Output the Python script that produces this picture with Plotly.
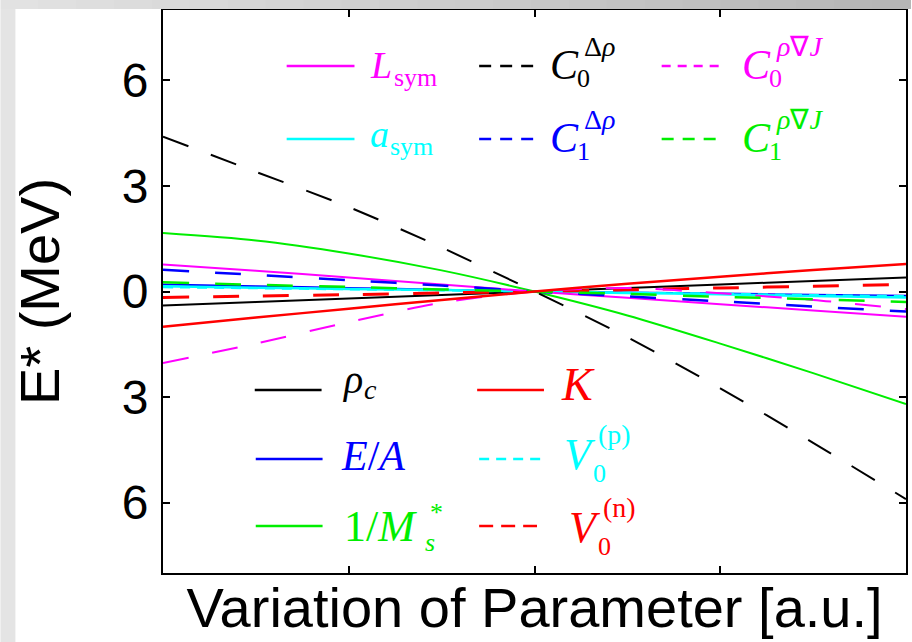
import plotly.graph_objects as go

# Parameter variation (arbitrary units) and excitation-energy shifts E* (MeV)
x = [0, 0.5, 1, 1.5, 2, 2.5, 3, 3.5, 4]

rho_c   = [-0.40, -0.30, -0.20, -0.10, 0, 0.10, 0.20, 0.30, 0.40]
E_A     = [0.20, 0.15, 0.10, 0.05, 0, -0.03, -0.06, -0.09, -0.12]
inv_Ms  = [1.66, 1.45, 1.08, 0.60, 0, -0.68, -1.48, -2.32, -3.20]
K       = [-1.00, -0.74, -0.49, -0.24, 0, 0.22, 0.42, 0.61, 0.78]
V0_p    = [0.12, 0.09, 0.06, 0.03, 0, -0.03, -0.06, -0.10, -0.13]
V0_n    = [-0.17, -0.13, -0.09, -0.04, 0, 0.05, 0.10, 0.15, 0.20]
L_sym   = [0.77, 0.59, 0.40, 0.20, 0, -0.18, -0.36, -0.54, -0.72]
a_sym   = [0.15, 0.11, 0.07, 0.04, 0, -0.04, -0.08, -0.13, -0.17]
C0_drho = [4.40, 3.40, 2.40, 1.25, 0, -1.30, -2.75, -4.30, -5.90]
C1_drho = [0.62, 0.47, 0.32, 0.17, 0, -0.14, -0.28, -0.43, -0.57]
C0_rJ   = [-2.03, -1.48, -0.87, -0.32, 0, 0.10, -0.05, -0.24, -0.50]
C1_rJ   = [0.26, 0.19, 0.13, 0.06, 0, -0.07, -0.15, -0.22, -0.30]

y_ticks = [6, 3, 0, -3, -6]
y_tick_text = ["6", "3", "0", "3", "6"]
x_ticks = [1, 2, 3]

MAGENTA, CYAN, BLUE, GREEN, RED, BLACK = "#ff00ff", "#00ffff", "#0000ff", "#00ee00", "#ff0000", "#000000"

series = [
    ("rho_c", rho_c, BLACK, "solid", 2),
    ("E/A", E_A, BLUE, "solid", 2),
    ("V0(p)", V0_p, CYAN, "10px,7px", 2),
    ("a_sym", a_sym, CYAN, "solid", 2.5),
    ("1/M*s", inv_Ms, GREEN, "solid", 2),
    ("V0(n)", V0_n, RED, "26px,24px", 3),
    ("L_sym", L_sym, MAGENTA, "solid", 2),
    ("C0 drho", C0_drho, BLACK, "27px,24px", 2),
    ("C1 drho", C1_drho, BLUE, "26px,26px", 2.5),
    ("C0 rho divJ", C0_rJ, MAGENTA, "26px,24px", 2),
    ("C1 rho divJ", C1_rJ, GREEN, "26px,26px", 2.5),
    ("K", K, RED, "solid", 2.5),
]

fig = go.Figure()
for name, vals, color, dash, w in series:
    fig.add_trace(go.Scatter(x=x, y=vals, mode="lines", name=name, showlegend=False,
                             line=dict(color=color, dash=dash, width=w,
                                       shape="spline", smoothing=0.8)))

# plot-area geometry in pixels, used to place the hand-built key
L, R, T, B = 163, 908, 10, 573
W, H = 912, 642


def px(xp):
    return (xp - L) / (R - L)


def py(yp):
    return (B - yp) / (B - T)


shapes = []
annotations = []


def key_line(x0, x1, y, color, dash, width=2.5):
    shapes.append(dict(type="line", xref="paper", yref="paper",
                       x0=px(x0), x1=px(x1), y0=py(y), y1=py(y),
                       line=dict(color=color, dash=dash, width=width)))


def txt(s, xl, baseline, size, color):
    annotations.append(dict(text=s, xref="paper", yref="paper",
                            x=px(xl), y=py(baseline - 0.34 * size),
                            xanchor="left", yanchor="middle", showarrow=False,
                            borderpad=0,
                            font=dict(family="Liberation Serif", size=size, color=color)))


SMALL = 26

# upper key block
r1, r2 = 66, 139
key_line(287, 355, r1, MAGENTA, "solid")
txt("<i>L</i>", 370, r1 + 12, 38, MAGENTA)
txt("sym", 394, r1 + 20, SMALL, MAGENTA)

key_line(480, 538, r1, BLACK, "12px,9px")
txt("<i>C</i>", 550, r1 + 13, 42, BLACK)
txt("0", 577, r1 + 21, SMALL, BLACK)
txt("Δ<i>ρ</i>", 584, r1 - 10, SMALL + 2, BLACK)

key_line(663, 724, r1, MAGENTA, "9px,7px")
txt("<i>C</i>", 743, r1 + 13, 42, MAGENTA)
txt("0", 770, r1 + 21, SMALL, MAGENTA)
txt("<i>ρ</i>∇<i>J</i>", 777, r1 - 10, SMALL + 2, MAGENTA)

key_line(287, 355, r2, CYAN, "solid")
txt("<i>a</i>", 370, r2 + 8, 38, CYAN)
txt("sym", 390, r2 + 16, SMALL, CYAN)

key_line(480, 538, r2, BLUE, "12px,9px")
txt("<i>C</i>", 550, r2 + 13, 42, BLUE)
txt("1", 577, r2 + 21, SMALL, BLUE)
txt("Δ<i>ρ</i>", 584, r2 - 10, SMALL + 2, BLUE)

key_line(663, 724, r2, GREEN, "12px,9px")
txt("<i>C</i>", 743, r2 + 13, 42, GREEN)
txt("1", 770, r2 + 21, SMALL, GREEN)
txt("<i>ρ</i>∇<i>J</i>", 777, r2 - 10, SMALL + 2, GREEN)

# lower key block
b1, b2, b3 = 390, 459, 526
key_line(255, 322, b1, BLACK, "solid")
txt("<i>ρ</i>", 341, b1 + 3, 40, BLACK)
txt("<i>c</i>", 364, b1 + 9, 28, BLACK)

key_line(478, 545, b1, RED, "solid")
txt("<i>K</i>", 561, b1 + 10, 46, RED)

key_line(256, 323, b2, BLUE, "solid")
txt("<i>E</i>/<i>A</i>", 340, b2 + 11, 42, BLUE)

key_line(480, 542, b2, CYAN, "10px,7px")
txt("<i>V</i>", 564, b2 + 10, 44, CYAN)
txt("0", 593, b2 + 23, SMALL, CYAN)
txt("(p)", 598, b2 - 15, SMALL + 2, CYAN)

key_line(256, 323, b3, GREEN, "solid")
txt("1/<i>M</i>", 343, b3 + 15, 44, GREEN)
txt("<i>s</i>", 425, b3 + 25, SMALL, GREEN)
txt("*", 430, b3 - 5, SMALL, GREEN)

key_line(480, 538, b3, RED, "14px,8px")
txt("<i>V</i>", 569, b3 + 16, 44, RED)
txt("0", 598, b3 + 29, SMALL, RED)
txt("(n)", 603, b3 - 9, SMALL + 2, RED)

# slide frame: grey strips along the top and left edges
n_steps = 24
for i in range(n_steps):
    xa = i * W / n_steps
    xb = (i + 1) * W / n_steps
    g = int(0xe2 - (0xe2 - 0xb6) * i / (n_steps - 1))
    shapes.append(dict(type="rect", xref="paper", yref="paper", layer="above",
                       x0=px(xa), x1=px(xb + 1), y0=py(9), y1=py(0),
                       line=dict(width=0), fillcolor=f"rgb({g},{g},{g})"))
shapes.append(dict(type="rect", xref="paper", yref="paper", layer="above",
                   x0=px(0), x1=px(15), y0=py(H), y1=py(9),
                   line=dict(width=0), fillcolor="#e4e4e4"))

fig.update_layout(
    width=W, height=H,
    margin=dict(l=L, r=W - R, t=T, b=H - B),
    paper_bgcolor="white", plot_bgcolor="white",
    showlegend=False,
    shapes=shapes, annotations=annotations,
    font=dict(family="Liberation Sans", color="black"),
)
fig.update_xaxes(range=[0, 4], tickvals=x_ticks, showticklabels=False,
                 ticks="inside", ticklen=7, tickwidth=1.5, tickcolor="black",
                 showline=True, linewidth=2, linecolor="black", mirror="ticks",
                 showgrid=False, zeroline=False,
                 title=dict(text="Variation of Parameter [a.u.]",
                            font=dict(size=56, family="Liberation Sans"), standoff=14))
fig.update_yaxes(range=[-8, 8], tickvals=y_ticks, ticktext=y_tick_text,
                 ticks="inside", ticklen=7, tickwidth=1.5, tickcolor="black",
                 showline=True, linewidth=2, linecolor="black", mirror="ticks",
                 showgrid=False, zeroline=False, ticklabelstandoff=3,
                 tickfont=dict(size=48, family="Liberation Sans"),
                 title=dict(text="E* (MeV)", font=dict(size=56, family="Liberation Sans"),
                            standoff=44))

fig.write_html("out.html")
